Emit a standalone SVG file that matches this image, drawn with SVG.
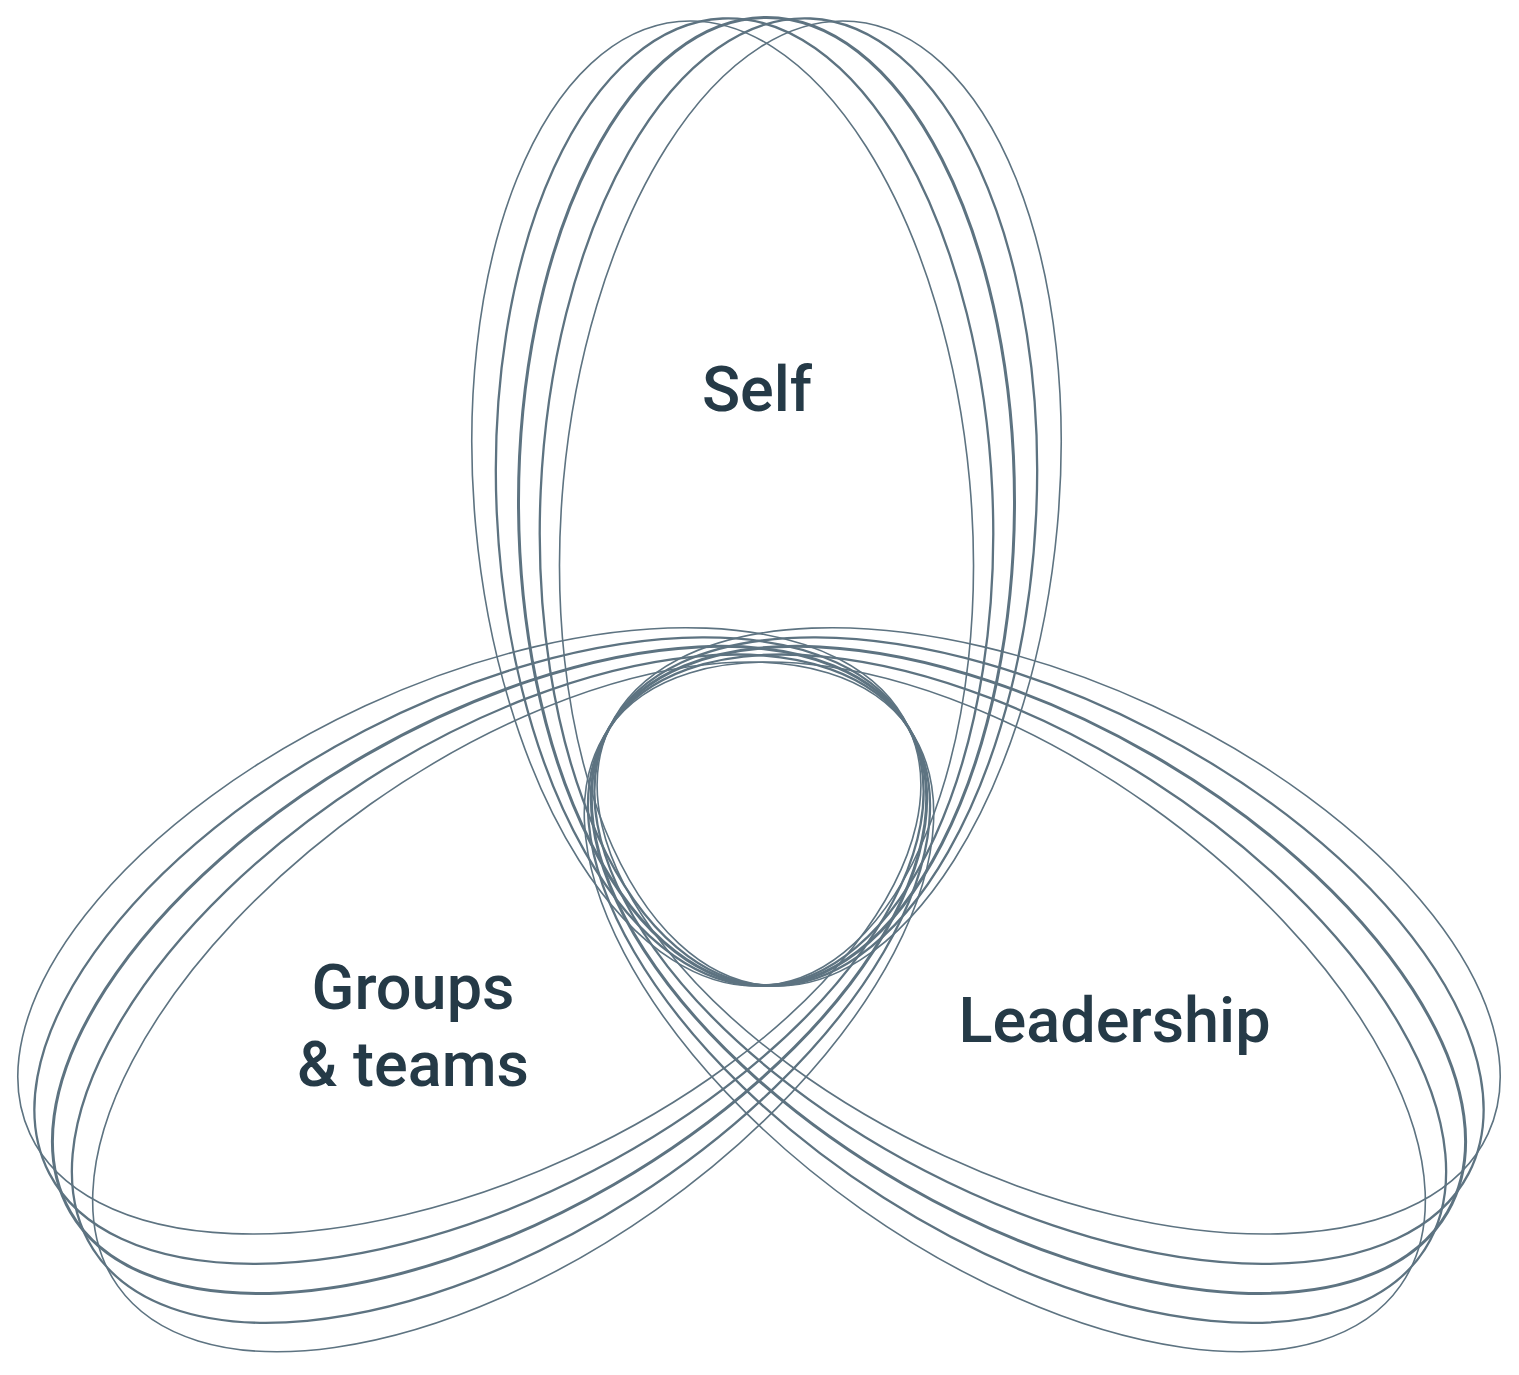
<svg xmlns="http://www.w3.org/2000/svg" xmlns:xlink="http://www.w3.org/1999/xlink" width="1519" height="1375" viewBox="0 0 1519 1375">
  <style>
    .loop { fill: none; stroke: #5d7381; }
    .w1 { stroke-width: 1.6; }
    .w2 { stroke-width: 2.3; }
    .w3 { stroke-width: 3.0; }
    .label { font-family: Roboto, "Liberation Sans", sans-serif; font-weight: 500; font-size: 63px; fill: #253a47; text-anchor: middle; }
  </style>
  <defs>
    <g id="family">
      <ellipse class="loop w1" cx="766.5" cy="500" rx="248" ry="484" transform="rotate(-5.2 766.5 984)"/>
      <ellipse class="loop w2" cx="766.5" cy="500" rx="248" ry="484" transform="rotate(-2.6 766.5 984)"/>
      <ellipse class="loop w3" cx="766.5" cy="500" rx="248" ry="484"/>
      <ellipse class="loop w2" cx="766.5" cy="500" rx="248" ry="484" transform="rotate(2.6 766.5 984)"/>
      <ellipse class="loop w1" cx="766.5" cy="500" rx="248" ry="484" transform="rotate(5.2 766.5 984)"/>
    </g>
  </defs>
  <rect width="1519" height="1375" fill="#ffffff"/>
  <g id="self">
    <use xlink:href="#family" href="#family" transform="translate(0 1.5)"/>
    <text class="label" x="757" y="411">Self</text>
  </g>
  <g id="leadership">
    <use xlink:href="#family" href="#family" transform="translate(609.3 727.9) rotate(120) translate(-766.5 -984)"/>
    <text class="label" x="1114.5" y="1042">Leadership</text>
  </g>
  <g id="groups-teams">
    <use xlink:href="#family" href="#family" transform="translate(908.7 727.9) rotate(-120) translate(-766.5 -984)"/>
    <text class="label" x="413" y="1009">Groups</text>
    <text class="label" x="413" y="1086">&amp; teams</text>
  </g>
  <g id="connectors"/>
</svg>
